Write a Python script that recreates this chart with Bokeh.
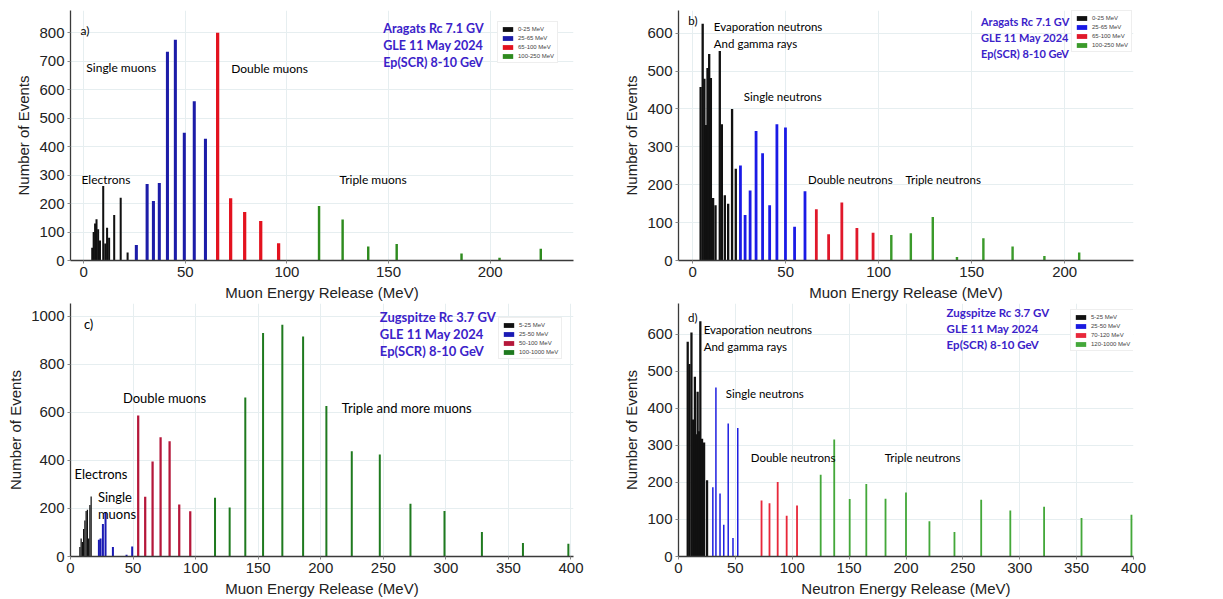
from bokeh.plotting import figure
from bokeh.layouts import row, column
from bokeh.models import Label, FixedTicker, Range1d
from bokeh.embed import file_html
from bokeh.resources import INLINE

# ---------------- data ----------------
# a) Aragats, muon energy release
a_black_x = [4.2, 4.9, 5.6, 6.3, 7.1, 8.0, 9.6, 10.6, 11.5, 12.5, 15.0, 18.2, 21.6]
a_black_y = [45, 100, 130, 145, 110, 70, 262, 60, 115, 80, 160, 220, 28]
a_blue_x = [25.9, 31.2, 34.3, 37.2, 41.2, 45.1, 49.5, 54.4, 59.9]
a_blue_y = [54, 269, 209, 272, 733, 775, 449, 559, 428]
a_red_x = [65.9, 72.3, 79.2, 87.1, 95.9]
a_red_y = [800, 219, 170, 139, 61]
a_green_x = [115.8, 127.4, 140.0, 154.0, 185.9, 204.6, 224.9]
a_green_y = [191, 144, 49, 58, 25, 10, 41]
a_legend = ["0-25 MeV", "25-65 MeV", "65-100 MeV", "100-250 MeV"]

# b) Aragats, neutron-type events
b_black_x = [4.3, 5.4, 6.3, 7.1, 8.0, 8.9, 9.8, 11.0, 12.3, 14.6, 15.7, 17.3, 19.1, 21.2, 23.2]
b_black_y = [458, 625, 480, 358, 508, 545, 482, 165, 146, 553, 360, 172, 150, 400, 242]
b_blue_x = [25.7, 28.2, 30.9, 34.1, 37.6, 41.4, 45.3, 49.9, 54.8, 60.4]
b_blue_y = [251, 120, 185, 342, 283, 146, 360, 351, 89, 183]
b_red_x = [66.5, 73.1, 80.2, 88.3, 97.0]
b_red_y = [135, 69, 153, 86, 73]
b_green_x = [106.8, 117.3, 129.1, 142.1, 156.3, 172.0, 189.1, 207.8]
b_green_y = [67, 72, 115, 9, 59, 37, 12, 21]
b_legend = ["0-25 MeV", "25-65 MeV", "65-100 MeV", "100-250 MeV"]

# c) Zugspitze, muon energy release
c_black_x = [7.5, 8.5, 9.5, 10.5, 11.5, 12.5, 13.5, 14.5, 15.5, 16.5]
c_black_y = [40, 75, 60, 115, 150, 190, 195, 75, 215, 250]
c_blue_x = [22.7, 24.0, 25.9, 28.0, 33.9, 44.8, 49.3]
c_blue_y = [70, 75, 135, 185, 40, 7, 42]
c_red_x = [54.1, 59.7, 65.6, 72.0, 79.2, 86.9, 95.7]
c_red_y = [587, 249, 396, 497, 480, 217, 189]
c_green_x = [115.5, 127.2, 139.7, 153.9, 169.3, 185.9, 204.5, 224.8, 247.2, 271.7, 298.9, 328.8, 361.6, 397.9]
c_green_y = [245, 204, 662, 931, 965, 917, 627, 438, 425, 220, 190, 102, 56, 53]
c_legend = ["5-25 MeV", "25-50 MeV", "50-100 MeV", "100-1000 MeV"]

# d) Zugspitze, neutron energy release
d_black_x = [8.1, 9.6, 11.4, 12.9, 14.4, 15.6, 16.8, 18.0, 19.2, 20.7, 22.5, 25.1]
d_black_y = [580, 520, 605, 370, 485, 330, 445, 338, 635, 318, 308, 206]
d_blue_x = [30.2, 32.9, 36.5, 39.8, 43.7, 47.9, 52.1]
d_blue_y = [187, 456, 170, 86, 359, 50, 347]
d_red_x = [73.0, 80.0, 87.2, 95.1, 104.2]
d_red_y = [151, 144, 201, 110, 138]
d_green_x = [125.0, 136.9, 150.5, 165.1, 182.0, 200.0, 220.6, 242.6, 266.1, 291.7, 321.4, 354.3, 398.2]
d_green_y = [221, 316, 155, 196, 156, 173, 95, 66, 153, 124, 134, 104, 113]
d_legend = ["5-25 MeV", "25-50 MeV", "70-120 MeV", "120-1000 MeV"]

a_info = ["Aragats  Rc 7.1 GV", "GLE 11 May 2024", "Ep(SCR) 8-10 GeV"]
c_info = ["Zugspitze  Rc 3.7 GV", "GLE 11 May 2024", "Ep(SCR) 8-10 GeV"]

INFO_COLOR = "#3b22c9"
TXT_FONT = "Lato"
AX_FONT = "Liberation Sans"


def panel(width, height, borders, xr, yr, xticks, yticks, xlabel, groups,
          legend_labels, legend_loc, notes, note_size, info, info_xy,
          info_step, info_size):
    left, right, top, bottom = borders
    p = figure(width=width, height=height, output_backend="svg",
               toolbar_location=None,
               x_range=Range1d(*xr), y_range=Range1d(*yr),
               min_border_left=left, min_border_right=right,
               min_border_top=top, min_border_bottom=bottom)
    p.outline_line_color = None
    p.background_fill_color = "white"
    for (xs, ys, w, col), lab in zip(groups, legend_labels):
        p.vbar(x=xs, top=ys, bottom=0, width=w, fill_color=col,
               line_color=None, legend_label=lab)
    # axes
    p.xaxis.ticker = FixedTicker(ticks=xticks)
    p.yaxis.ticker = FixedTicker(ticks=yticks)
    for ax in (p.xaxis[0], p.yaxis[0]):
        ax.axis_line_color = "#3a3a3a"
        ax.axis_line_width = 1.3
        ax.major_tick_line_color = "#888888"
        ax.major_tick_in = 0
        ax.major_tick_out = 3
        ax.minor_tick_line_color = None
        ax.major_label_text_font = AX_FONT
        ax.major_label_text_font_size = "15px"
        ax.major_label_text_color = "#222222"
        ax.axis_label_text_font = AX_FONT
        ax.axis_label_text_font_size = "15px"
        ax.axis_label_text_font_style = "normal"
        ax.axis_label_text_color = "#222222"
        ax.major_label_standoff = 3
        ax.axis_label_standoff = 4
    p.xaxis.axis_label = xlabel
    p.yaxis.axis_label = "Number of Events"
    p.xgrid.grid_line_color = "#e6eef0"
    p.ygrid.grid_line_color = "#e6eef0"
    # legend
    lg = p.legend[0]
    lg.location = legend_loc
    lg.label_text_font_size = "6px"
    lg.label_text_font = AX_FONT
    lg.label_text_color = "#444444"
    lg.glyph_width = 13
    lg.glyph_height = 6
    lg.label_height = 7
    lg.label_standoff = 4
    lg.spacing = 2
    lg.padding = 3
    lg.margin = 0
    lg.border_line_color = "#dddddd"
    lg.background_fill_alpha = 1.0
    # annotations
    for text, x, y in notes:
        p.add_layout(Label(x=x, y=y, text=text, text_font=TXT_FONT,
                           text_font_size=note_size, text_color="#000000",
                           text_baseline="middle", text_align="left"))
    ix, iy = info_xy
    for i, line in enumerate(info):
        p.add_layout(Label(x=ix, y=iy - i * info_step, text=line,
                           text_font=TXT_FONT, text_font_size=info_size,
                           text_font_style="bold", text_color=INFO_COLOR,
                           text_baseline="middle", text_align="left"))
    return p


pa = panel(620, 303, (70, 47, 10, 41), (-6.5, 241), (0, 878),
           [0, 50, 100, 150, 200], list(range(0, 801, 100)),
           "Muon Energy Release (MeV)",
           [(a_black_x, a_black_y, 1.0, "#111111"),
            (a_blue_x, a_blue_y, 1.5, "#1c1ca8"),
            (a_red_x, a_red_y, 1.6, "#e3121e"),
            (a_green_x, a_green_y, 1.2, "#2e8b1e")],
           a_legend, (427, 197),
           [("a)", -1.6, 808), ("Single muons", 1.3, 679),
            ("Double muons", 72.6, 676), ("Electrons", -1.1, 286),
            ("Triple muons", 125.8, 286)], "12px",
           a_info, (147.4, 815), 59, "12.5px")

pb = panel(603, 303, (55, 90, 10, 41), (-7.6, 237), (0, 660),
           [0, 50, 100, 150, 200], list(range(0, 601, 100)),
           "Muon Energy Release (MeV)",
           [(b_black_x, b_black_y, 1.25, "#111111"),
            (b_blue_x, b_blue_y, 1.5, "#1a1ae6"),
            (b_red_x, b_red_y, 1.5, "#e0182a"),
            (b_green_x, b_green_y, 1.3, "#3a9a2a")],
           b_legend, (393, 208),
           [("b)", -2.3, 633), ("Evaporation neutrons", 11.4, 619),
            ("And gamma rays", 11.4, 574), ("Single neutrons", 27.5, 434),
            ("Double neutrons", 62.0, 213), ("Triple neutrons", 114.4, 213)], "11.5px",
           a_info, (155.0, 630), 42, "11px")

pc = panel(620, 296, (70, 47, 0, 42), (0, 402), (0, 1054),
           list(range(0, 401, 50)), list(range(0, 1001, 200)),
           "Muon Energy Release (MeV)",
           [(c_black_x, c_black_y, 1.0, "#111111"),
            (c_blue_x, c_blue_y, 1.6, "#1a1ab4"),
            (c_red_x, c_red_y, 1.8, "#b5173a"),
            (c_green_x, c_green_y, 1.6, "#1f7a1f")],
           c_legend, (428, 197),
           [("c)", 10.7, 970), ("Double muons", 41.9, 662),
            ("Triple and more muons", 216.8, 620), ("Electrons", 3.2, 345),
            ("Single", 21.9, 249), ("muons", 21.9, 179)], "13px",
           c_info, (247.2, 998), 70, "13px")

pd = panel(603, 296, (55, 90, 0, 42), (0, 400), (0, 683),
           list(range(0, 401, 50)), list(range(0, 601, 100)),
           "Neutron Energy Release (MeV)",
           [(d_black_x, d_black_y, 2.0, "#111111"),
            (d_blue_x, d_blue_y, 1.3, "#1a1ae0"),
            (d_red_x, d_red_y, 1.6, "#e8283a"),
            (d_green_x, d_green_y, 1.6, "#44a83a")],
           d_legend, (392, 205),
           [("d)", 8.4, 646), ("Evaporation neutrons", 22.1, 612),
            ("And gamma rays", 22.1, 566), ("Single neutrons", 41.6, 440),
            ("Double neutrons", 63.5, 266), ("Triple neutrons", 181.4, 266)], "11.5px",
           c_info, (235.7, 659), 44, "11.5px")

layout = column(row(pa, pb), row(pc, pd))
open("out.html", "w").write(file_html(layout, INLINE))
